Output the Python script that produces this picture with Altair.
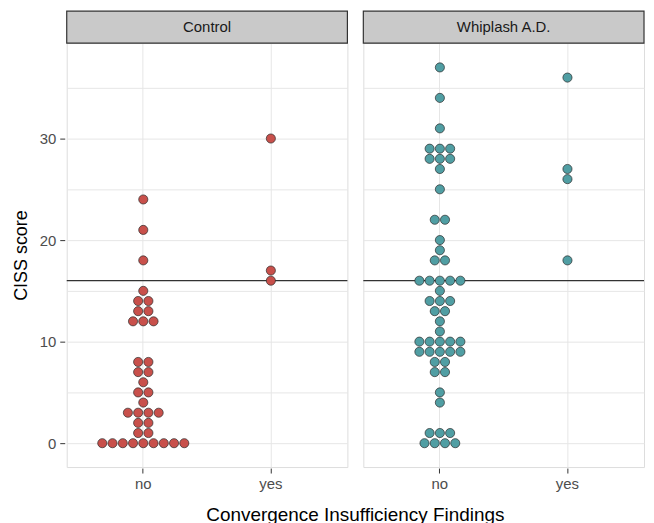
import altair as alt
import pandas as pd

# CISS scores (one entry per participant)
control_no = [24, 21, 18, 15, 14, 14, 13, 13, 12, 12, 12, 8, 8, 7, 7, 6, 5, 5, 4,
              3, 3, 3, 3, 2, 2, 1, 1, 0, 0, 0, 0, 0, 0, 0, 0, 0]
control_yes = [30, 17, 16]
whiplash_no = [37, 34, 31, 29, 29, 29, 28, 28, 28, 27, 25, 22, 22, 20, 19, 18, 18,
               16, 16, 16, 16, 16, 15, 14, 14, 14, 13, 13, 12, 11,
               10, 10, 10, 10, 10, 9, 9, 9, 9, 9, 8, 8, 7, 7, 5, 4, 1, 1, 1, 0, 0, 0, 0]
whiplash_yes = [36, 27, 26, 18]

groups = ["Control", "Whiplash A.D."]
findings = ["no", "yes"]
cutoff = 16
colors = ["#c8504b", "#509ea3"]

rows = []
for g, f, vals in [("Control", "no", control_no), ("Control", "yes", control_yes),
                   ("Whiplash A.D.", "no", whiplash_no), ("Whiplash A.D.", "yes", whiplash_yes)]:
    for v in vals:
        rows.append({"Group": g, "Findings": f, "score": v})
df = pd.DataFrame(rows)

W, H = 282, 426
FONT = "Liberation Sans"
half = 0.8 * (W / 2.2) / 2 / 10.3  # offset domain so one step is ~10 px

points = alt.Chart().mark_point(
    shape="circle", filled=True, size=84, stroke="#2b2b2b", strokeWidth=0.7, opacity=1
).encode(
    x=alt.X("Findings:N", sort=findings,
            scale=alt.Scale(domain=findings, paddingInner=0.2, paddingOuter=0.2),
            axis=alt.Axis(title=None, grid=True, gridColor="#e6e6e6", domain=False,
                          tickColor="#333333", tickSize=5, labelPadding=4,
                          labelFontSize=15, labelColor="#4d4d4d", labelAngle=0)),
    xOffset=alt.XOffset("offset:Q", scale=alt.Scale(domain=[-half, half], nice=False, zero=False)),
    y=alt.Y("score:Q",
            scale=alt.Scale(domain=[-2.35, 39.4], nice=False, zero=False),
            axis=alt.Axis(title="CISS score", values=[0, 5, 10, 15, 20, 25, 30, 35],
                          labelExpr="datum.value % 10 === 0 ? datum.label : ''",
                          tickColor={"condition": {"test": "datum.value % 10 === 0", "value": "#333333"},
                                     "value": "transparent"},
                          grid=True, gridColor="#e6e6e6", domain=False, tickSize=5,
                          labelPadding=4, labelFontSize=15, labelColor="#4d4d4d",
                          titleFontSize=18, titleFontWeight="normal", titleColor="#000000",
                          titlePadding=9)),
    fill=alt.Fill("Group:N", scale=alt.Scale(domain=groups, range=colors), legend=None),
).transform_window(
    rn="row_number()", groupby=["Group", "Findings", "score"]
).transform_joinaggregate(
    n="count()", groupby=["Group", "Findings", "score"]
).transform_calculate(
    offset="datum.rn - (datum.n + 1) / 2"
)

rule = alt.Chart().mark_rule(color="#333333", strokeWidth=1.2).encode(
    y=alt.datum(cutoff)
).transform_aggregate(k="count()", groupby=["Group"])

strip = alt.Chart().mark_rect(fill="#c9c9c9", stroke="#333333", strokeWidth=1.2).encode(
    x=alt.value(0), x2=alt.value(W), y=alt.value(-32), y2=alt.value(0)
).transform_aggregate(k="count()", groupby=["Group"])

strip_text = alt.Chart().mark_text(font=FONT, fontSize=15, color="#1a1a1a").encode(
    x=alt.value(W / 2), y=alt.value(-16), text="Group:N"
).transform_aggregate(k="count()", groupby=["Group"])

layer = alt.layer(rule, points, strip, strip_text).properties(width=W, height=H)

chart = layer.facet(
    data=df,
    column=alt.Column("Group:N", sort=groups,
                      header=alt.Header(title="Convergence Insufficiency Findings",
                                        titleOrient="bottom", labels=False,
                                        titleFontSize=19, titleFontWeight="normal",
                                        titleColor="#000000", titleFont=FONT, titlePadding=4)),
    spacing=12,
).properties(
    padding={"top": 0, "left": 4, "right": 0, "bottom": 0}
).configure_view(
    stroke="#333333", strokeWidth=1.2
).configure(
    font=FONT
)

chart.save("out.html", embed_options={"renderer": "svg", "actions": False})
